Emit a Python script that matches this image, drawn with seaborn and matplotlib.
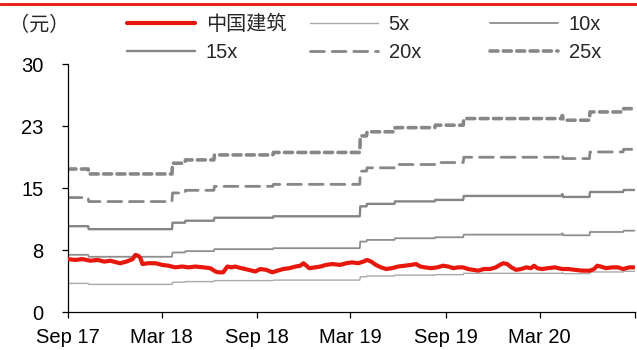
import pandas as pd
import matplotlib
matplotlib.use("Agg")
import matplotlib.pyplot as plt
from matplotlib.lines import Line2D
import seaborn as sns

# 中国建筑 closing price (元)
price_dates = [
    "2017-09-01", "2017-09-15", "2017-09-29", "2017-10-14", "2017-10-28", "2017-11-10",
    "2017-11-22", "2017-12-04", "2017-12-11", "2017-12-23", "2018-01-04", "2018-01-09",
    "2018-01-15", "2018-01-19", "2018-01-23", "2018-02-03", "2018-02-17", "2018-03-02",
    "2018-03-14", "2018-03-27", "2018-04-10", "2018-04-22", "2018-05-05", "2018-05-21",
    "2018-06-03", "2018-06-13", "2018-06-19", "2018-06-28", "2018-07-06", "2018-07-14",
    "2018-07-21", "2018-08-02", "2018-08-16", "2018-08-29", "2018-09-08", "2018-09-19",
    "2018-10-01", "2018-10-11", "2018-10-22", "2018-11-03", "2018-11-15", "2018-11-24",
    "2018-11-30", "2018-12-06", "2018-12-11", "2018-12-23", "2019-01-02", "2019-01-13",
    "2019-01-25", "2019-02-09", "2019-02-21", "2019-03-04", "2019-03-16", "2019-03-26",
    "2019-04-02", "2019-04-10", "2019-04-19", "2019-04-29", "2019-05-09", "2019-05-20",
    "2019-06-01", "2019-06-14", "2019-06-26", "2019-07-06", "2019-07-14", "2019-07-23",
    "2019-08-04", "2019-08-16", "2019-08-27", "2019-09-06", "2019-09-16", "2019-09-25",
    "2019-10-05", "2019-10-14", "2019-10-24", "2019-11-03", "2019-11-14", "2019-11-26",
    "2019-12-07", "2019-12-15", "2019-12-21", "2019-12-29", "2020-01-06", "2020-01-15",
    "2020-01-25", "2020-02-04", "2020-02-13", "2020-02-19", "2020-02-25", "2020-03-05",
    "2020-03-17", "2020-03-30", "2020-04-13", "2020-04-25", "2020-05-08", "2020-05-22",
    "2020-06-06", "2020-06-14", "2020-06-20", "2020-06-27", "2020-07-07", "2020-07-19",
    "2020-07-30", "2020-08-09", "2020-08-21", "2020-08-30",
]
price_values = [
    6.4, 6.3, 6.4, 6.2, 6.3, 6.1,
    6.2, 6.0, 5.9, 6.1, 6.4, 6.9,
    6.8, 6.5, 5.8, 5.9, 5.9, 5.7,
    5.6, 5.4, 5.5, 5.4, 5.5, 5.4,
    5.3, 4.9, 4.8, 4.8, 5.5, 5.4,
    5.5, 5.3, 5.1, 4.9, 5.2, 5.1,
    4.8, 5.0, 5.2, 5.3, 5.5, 5.6,
    5.9, 5.6, 5.3, 5.4, 5.5, 5.7,
    5.8, 5.7, 5.9, 6.0, 5.9, 6.1,
    6.3, 6.1, 5.7, 5.4, 5.2, 5.3,
    5.5, 5.6, 5.7, 5.8, 5.5, 5.4,
    5.3, 5.4, 5.6, 5.5, 5.3, 5.4,
    5.4, 5.2, 5.1, 5.0, 5.2, 5.2,
    5.4, 5.7, 5.9, 5.8, 5.4, 5.1,
    5.2, 5.4, 5.3, 5.6, 5.3, 5.2,
    5.3, 5.4, 5.2, 5.2, 5.1, 5.0,
    5.0, 5.2, 5.6, 5.5, 5.3, 5.4,
    5.4, 5.2, 5.4, 5.4,
]

# trailing EPS (元/股) behind the PE bands, step changes
eps_dates = [
    "2017-09-01", "2017-10-11", "2018-03-22", "2018-04-16", "2018-06-11", "2018-10-03",
    "2019-03-20", "2019-04-02", "2019-05-26", "2019-08-12", "2019-10-06", "2020-04-13",
    "2020-04-15", "2020-06-06", "2020-08-10",
]
eps_values = [
    0.692, 0.668, 0.720, 0.736, 0.760, 0.772,
    0.852, 0.872, 0.892, 0.904, 0.936, 0.950,
    0.928, 0.968, 0.984,
]

multiples = [5, 10, 15, 20, 25]
band_labels = ["5x", "10x", "15x", "20x", "25x"]

x_start, x_end, last_day = "2017-09-01", "2020-09-01", "2020-08-31"
tick_dates = ["2017-09-01", "2018-03-01", "2018-09-01", "2019-03-01",
              "2019-09-01", "2020-03-01", "2020-09-01"]
tick_labels = ["Sep 17", "Mar 18", "Sep 18", "Mar 19", "Sep 19", "Mar 20", ""]
y_ticks = [0, 7.5, 15, 22.5, 30]
y_tick_labels = ["0", "8", "15", "23", "30"]

# styles per band
band_colors = ["#a9a9a9", "#8e8e8e", "#858585", "#878787", "#878787"]
band_widths = [1.0, 1.3, 1.7, 2.0, 2.6]
band_dashes = [None, None, None, (5.0, 2.8), (2.2, 1.5)]
red = "#e8170c"

sns.set_style("ticks")
plt.rcParams["font.family"] = ["Liberation Sans", "Noto Sans CJK SC"]
plt.rcParams["font.size"] = 14.5

# daily step series for the bands
days = pd.date_range(x_start, last_day, freq="D")
eps = pd.Series(eps_values, index=pd.to_datetime(eps_dates)).reindex(days, method="ffill")

price = pd.DataFrame({"date": pd.to_datetime(price_dates), "price": price_values})

fig = plt.figure(figsize=(6.37, 3.5), dpi=100)
ax = fig.add_axes([68 / 637, 1 - 312 / 350, (635 - 68) / 637, (312 - 64) / 350])

band_handles = []
for m, lab, c, w, d in zip(multiples, band_labels, band_colors, band_widths, band_dashes):
    band = pd.DataFrame({"date": days, "value": eps.values * m})
    sns.lineplot(data=band, x="date", y="value", ax=ax, color=c, linewidth=w, zorder=2)
    ln = ax.get_lines()[-1]
    if d is not None:
        ln.set_dashes(d)
        ln.set_dash_capstyle("round")
    band_handles.append(ln)

sns.lineplot(data=price, x="date", y="price", ax=ax, color=red, linewidth=3.0, zorder=3)
price_line = ax.get_lines()[-1]

ax.set_xlim(pd.Timestamp(x_start), pd.Timestamp(x_end))
ax.set_ylim(0, 30)
ax.set_xticks(pd.to_datetime(tick_dates))
ax.set_xticklabels(tick_labels)
ax.set_yticks(y_ticks)
ax.set_yticklabels(y_tick_labels)
ax.set_xlabel("")
ax.set_ylabel("")
for side in ["top", "right"]:
    ax.spines[side].set_visible(False)
for side in ["left", "bottom"]:
    ax.spines[side].set_color("black")
    ax.spines[side].set_linewidth(0.9)
ax.tick_params(axis="both", direction="out", length=4.5, width=0.9, color="black",
               labelsize=14.5, labelcolor="black")
ax.tick_params(axis="y", pad=13)
ax.tick_params(axis="x", pad=7)

# legend in three columns, placed like the original
cols = [
    ([price_line, band_handles[2]], ["中国建筑", "15x"], 127),
    ([band_handles[0], band_handles[3]], ["5x", "20x"], 310),
    ([band_handles[1], band_handles[4]], ["10x", "25x"], 490),
]
for hs, ls, xpix in cols:
    fig.legend(hs, ls, loc="upper left", bbox_to_anchor=(xpix / 637, 1 - 15 / 350),
               frameon=False, borderpad=0, borderaxespad=0, handlelength=3.4,
               handletextpad=0.5, labelspacing=0.45, fontsize=14.5)

fig.text(9 / 637, 1 - 25 / 350, "（元）", fontsize=14.5, va="center", ha="left")

# red rule across the top
fig.add_artist(Line2D([0, 1], [1 - 4 / 350, 1 - 4 / 350], transform=fig.transFigure,
                      color=red, linewidth=2))

fig.savefig("out.png", dpi=100)
